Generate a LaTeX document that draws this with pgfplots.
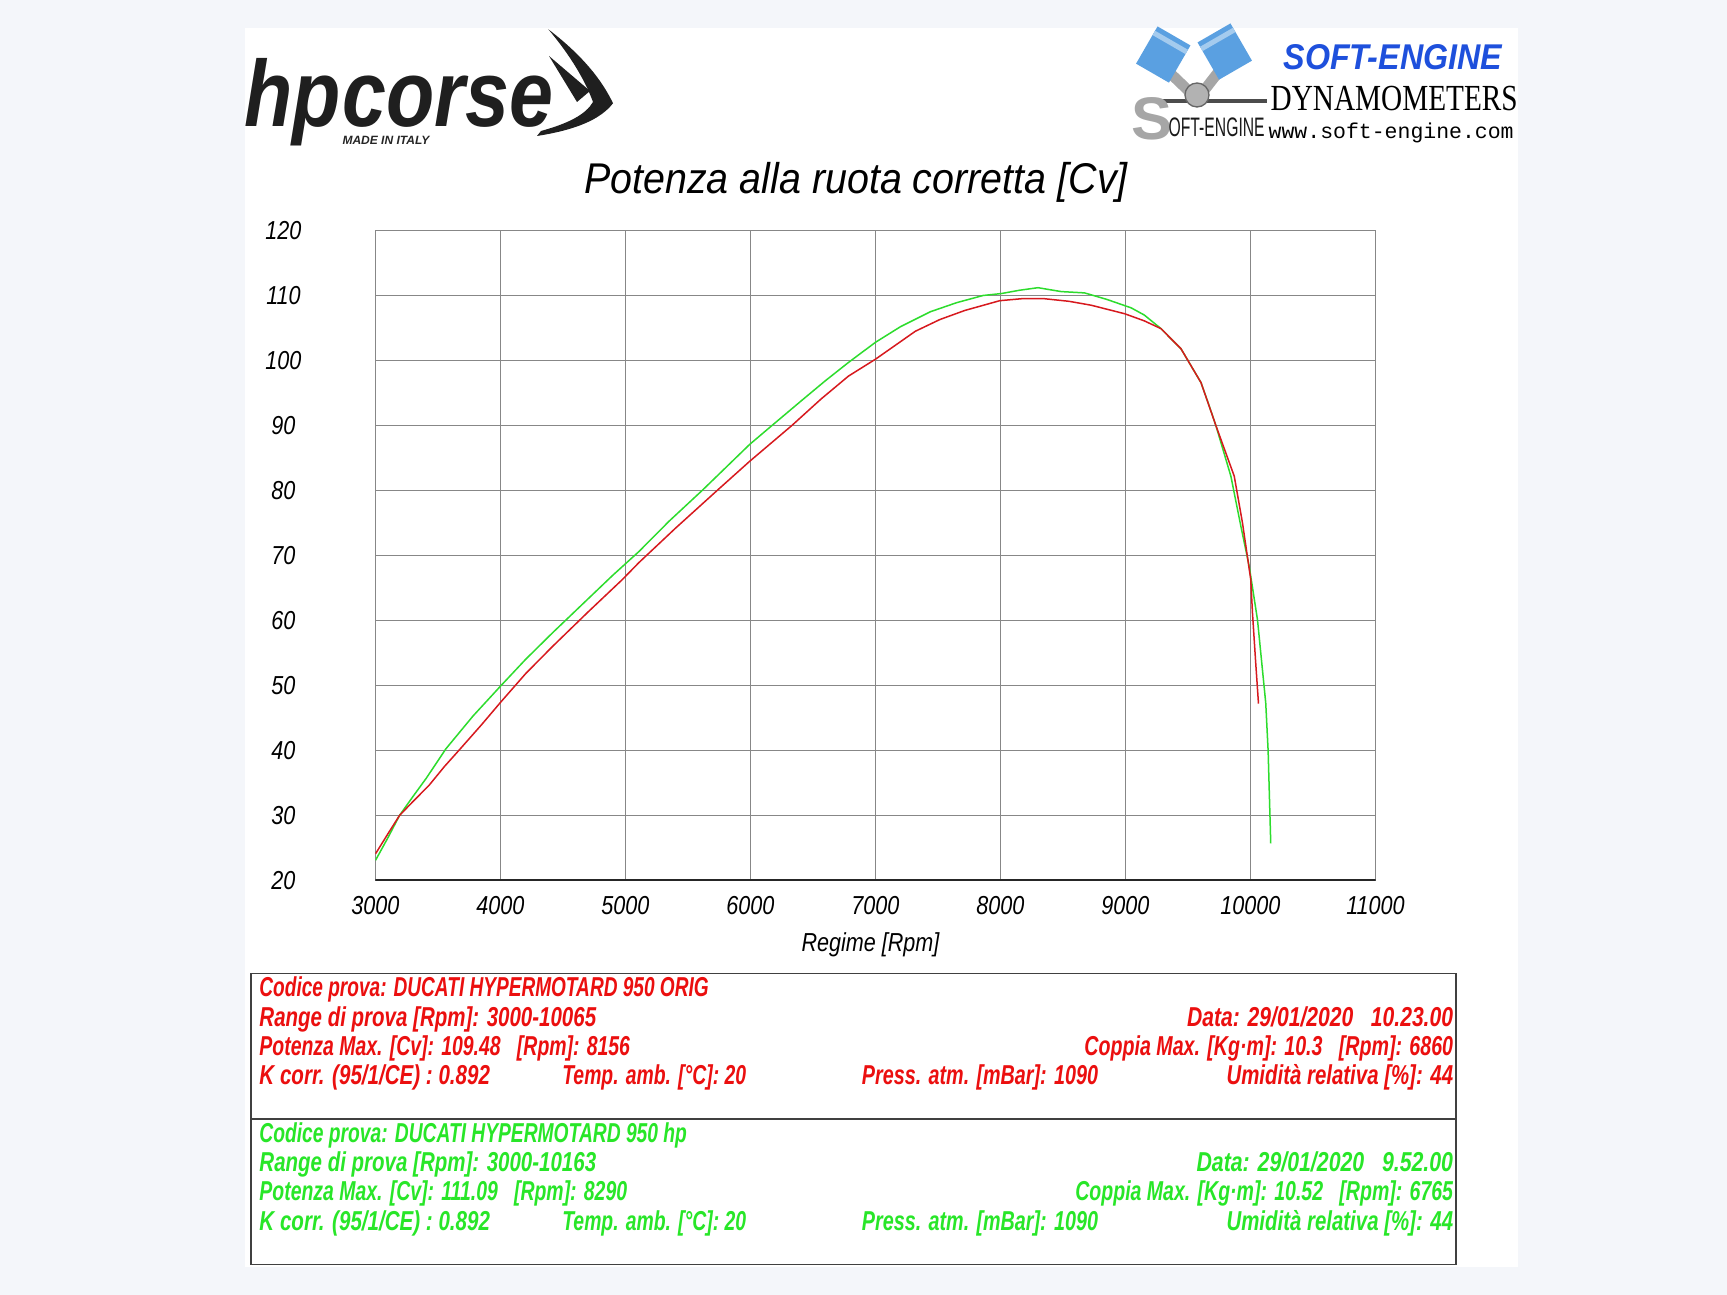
\documentclass[border=0pt]{standalone}
\usepackage{pgfplots}
\pgfplotsset{compat=1.18}
\usepackage{fontspec}
\setmainfont{Liberation Sans}
\setmonofont{Liberation Mono}
\newfontfamily\axf[FakeStretch=0.83]{Liberation Sans}
\newfontfamily\ttlf[FakeStretch=0.917]{Liberation Sans}
\newfontfamily\tabf[FakeStretch=0.686]{Liberation Sans}
\newfontfamily\hpf[FakeStretch=0.84]{Liberation Sans}
\newfontfamily\serf{Liberation Serif}
\definecolor{bg}{RGB}{244,246,250}
\definecolor{gridc}{RGB}{135,135,135}
\definecolor{redc}{RGB}{215,25,30}
\definecolor{greenc}{RGB}{45,220,45}
\definecolor{redt}{RGB}{235,15,15}
\definecolor{greent}{RGB}{40,230,40}
\definecolor{blueS}{RGB}{30,80,220}
\definecolor{pist}{RGB}{90,160,225}
\newcommand{\sx}[2]{\scalebox{#1}[1]{#2}}

\pgfplotstableread{
rpm cv
3000 23.1
3100 26.6
3192 30.0
3299 32.9
3405 35.7
3565 40.3
3780 45.3
4000 49.9
4200 54.0
4416 58.1
4650 62.4
4895 66.9
5107 70.6
5350 75.3
5613 80.0
5994 87.1
6172 90.0
6425 94.1
6600 96.9
6784 99.7
7000 102.8
7200 105.2
7439 107.5
7650 108.9
7861 110.0
8007 110.3
8150 110.8
8300 111.2
8486 110.6
8672 110.4
8850 109.4
9045 108.1
9150 107.0
9284 104.9
9444 101.8
9604 96.6
9670 93.0
9723 90.0
9843 82.2
9923 74.5
9990 68.3
10056 60.1
10122 47.3
10141 40.0
10162 25.7
}\greendata

\pgfplotstableread{
rpm cv
3000 24.1
3100 27.2
3192 30.0
3272 31.6
3431 34.7
3550 37.5
3671 40.1
3850 44.0
4000 47.4
4200 51.8
4416 56.0
4700 61.3
4975 66.3
5107 68.9
5400 74.2
5733 80.0
5994 84.5
6331 90.0
6566 94.1
6784 97.6
7000 100.2
7319 104.5
7515 106.3
7715 107.7
7994 109.2
8167 109.5
8354 109.5
8550 109.1
8726 108.5
8992 107.2
9150 106.1
9284 104.9
9444 101.8
9604 96.6
9723 90.0
9870 82.2
9936 75.0
10002 66.3
10016 61.1
10042 53.4
10064 47.2
}\reddata

\begin{document}
\begin{tikzpicture}
\begin{scope}[x=0.3pt,y=0.3pt]
\useasboundingbox (0,0) rectangle (1727,1295);
\fill[bg] (0,0) rectangle (1727,1295);
\fill[white] (244.5,28) rectangle (1518,1267);
% title
\node[font=\ttlf\itshape\fontsize{12.9}{15}\selectfont, inner sep=0] at (856,1112.6) {Potenza alla ruota corretta [Cv]};
% hpcorse logo
\node[font=\hpf\bfseries\itshape\fontsize{28.2}{30}\selectfont, inner sep=0, anchor=base west, text=black!88] (hp) at (244,1168) {hp};
\node[font=\hpf\bfseries\itshape\fontsize{28.2}{30}\selectfont, inner sep=0, anchor=base west, text=black!88] at (hp.base east) {corse};
\node[font=\bfseries\itshape\fontsize{3.6}{4}\selectfont, inner sep=0, text=black!85] at (386,1155) {MADE IN ITALY};
\fill[black!88] (548.3,1265.7) .. controls (582,1240) and (602,1215) .. (613,1191.7)
  .. controls (600,1175) and (575,1165) .. (537,1159) -- (541,1164)
  .. controls (570,1172) and (586,1181) .. (593,1193)
  .. controls (585,1215) and (570,1240) .. (548.3,1265.7) -- cycle;
\fill[black!88] (549,1239) -- (590,1204) -- (577,1193) -- cycle;
% soft-engine logo
\fill[black!70] (1150,1192) rectangle (1267,1196);
\draw[gray!70, line width=3.2pt] (1170,1222) -- (1195,1198);
\draw[gray!70, line width=3.2pt] (1220,1225) -- (1199,1198);
\fill[gray!60] (1197,1200) circle (12);
\draw[black!60, line width=0.4pt] (1197,1200) circle (12);
\fill[pist, rotate around={-30:(1163,1240)}] (1144,1219) rectangle (1182,1262);
\fill[pist!55!white, rotate around={-30:(1163,1240)}] (1144,1252) rectangle (1182,1257);
\fill[pist, rotate around={30:(1225,1243)}] (1206,1222) rectangle (1244,1265);
\fill[pist!55!white, rotate around={30:(1225,1243)}] (1206,1255) rectangle (1244,1260);
\node[inner sep=0, anchor=base west, text=gray!70] at (1131,1155) {\resizebox{12.3pt}{12.6pt}{\bfseries S}};
\node[inner sep=0, anchor=base west, text=black!90] at (1168,1158) {\resizebox{28.8pt}{5.6pt}{OFT-ENGINE}};
\node[inner sep=0, anchor=base west, text=blueS] at (1283,1225) {\resizebox{65.5pt}{7.5pt}{\bfseries\itshape SOFT-ENGINE}};
\node[inner sep=0, anchor=base west, text=black] at (1270,1184) {\resizebox{74.1pt}{7.3pt}{\serf DYNAMOMETERS}};
\node[inner sep=0, anchor=base west, text=black] at (1268,1156) {\resizebox{73.5pt}{!}{\ttfamily www.soft-engine.com}};
% table
\draw[black!75, line width=0.4pt] (251.1,30.6) rectangle (1456,321.3);
\draw[black!75, line width=0.4pt] (251.1,176) -- (1456,176);
\begin{scope}[every node/.style={inner sep=0, font=\tabf\bfseries\itshape\fontsize{8.2}{9}\selectfont}]
\node[anchor=base west, text=redt] at (258.8,298) {\sx{1.017}{Codice prova: DUCATI HYPERMOTARD 950 ORIG}};
\node[anchor=base west, text=redt] at (258.8,268.3) {\sx{1.093}{Range di prova [Rpm]: 3000-10065}};
\node[anchor=base east, text=redt] at (1453.8,268.3) {\sx{1.126}{Data: 29/01/2020\ \ \ 10.23.00}};
\node[anchor=base west, text=redt] at (258.8,239.7) {\sx{1.037}{Potenza Max. [Cv]: 109.48\ \ \ [Rpm]: 8156}};
\node[anchor=base east, text=redt] at (1453.8,239.7) {\sx{1.047}{Coppia Max. [Kg·m]: 10.3\ \ \ [Rpm]: 6860}};
\node[anchor=base west, text=redt] at (258.8,210) {\sx{1.097}{K corr. (95/1/CE) : 0.892}};
\node[anchor=base west, text=redt] at (561.7,210) {\sx{1.033}{Temp. amb. [°C]: 20}};
\node[anchor=base west, text=redt] at (861.3,210) {\sx{1.054}{Press. atm. [mBar]: 1090}};
\node[anchor=base east, text=redt] at (1453.8,210) {\sx{1.089}{Umidità relativa [\%]: 44}};
\node[anchor=base west, text=greent] at (258.8,152.7) {\sx{1.026}{Codice prova: DUCATI HYPERMOTARD 950 hp}};
\node[anchor=base west, text=greent] at (258.8,123) {\sx{1.093}{Range di prova [Rpm]: 3000-10163}};
\node[anchor=base east, text=greent] at (1453.8,123) {\sx{1.136}{Data: 29/01/2020\ \ \ 9.52.00}};
\node[anchor=base west, text=greent] at (258.8,94.3) {\sx{1.037}{Potenza Max. [Cv]: 111.09\ \ \ [Rpm]: 8290}};
\node[anchor=base east, text=greent] at (1453.8,94.3) {\sx{1.042}{Coppia Max. [Kg·m]: 10.52\ \ \ [Rpm]: 6765}};
\node[anchor=base west, text=greent] at (258.8,64.5) {\sx{1.097}{K corr. (95/1/CE) : 0.892}};
\node[anchor=base west, text=greent] at (561.7,64.5) {\sx{1.033}{Temp. amb. [°C]: 20}};
\node[anchor=base west, text=greent] at (861.3,64.5) {\sx{1.054}{Press. atm. [mBar]: 1090}};
\node[anchor=base east, text=greent] at (1453.8,64.5) {\sx{1.089}{Umidità relativa [\%]: 44}};
\end{scope}
\end{scope}
\begin{axis}[
  at={(112.65pt,124.35pt)}, anchor=south west,
  scale only axis, width=300pt, height=195pt,
  xmin=3000, xmax=11000, ymin=20, ymax=120,
  scaled ticks=false,
  xtick={3000,4000,5000,6000,7000,8000,9000,10000,11000},
  xticklabels={3000,4000,5000,6000,7000,8000,9000,10000,11000},
  ytick={20,30,40,50,60,70,80,90,100,110,120},
  yticklabels={20,30,40,50,60,70,80,90,100,110,120},
  grid=major, major grid style={draw=gridc, line width=0.3pt},
  axis line style={draw=gridc, line width=0.3pt},
  major tick length=0pt,
  tick label style={font=\axf\itshape\fontsize{7.8}{9}\selectfont, text=black},
  xticklabel style={anchor=center, yshift=-7.5pt},
  yticklabel style={anchor=center, xshift=-27.6pt},
  xlabel={Regime [Rpm]},
  xlabel style={at={(axis description cs:0.5,0)}, anchor=center, yshift=-19.2pt, xshift=-1.5pt, font=\axf\itshape\fontsize{7.8}{9}\selectfont},
]
\addplot[greenc, line width=0.45pt] table[x=rpm,y=cv] {\greendata};
\addplot[redc, line width=0.45pt] table[x=rpm,y=cv] {\reddata};
\draw[black!85, line width=0.6pt] (axis cs:3000,20) -- (axis cs:11000,20);
\end{axis}
\end{tikzpicture}
\end{document}
